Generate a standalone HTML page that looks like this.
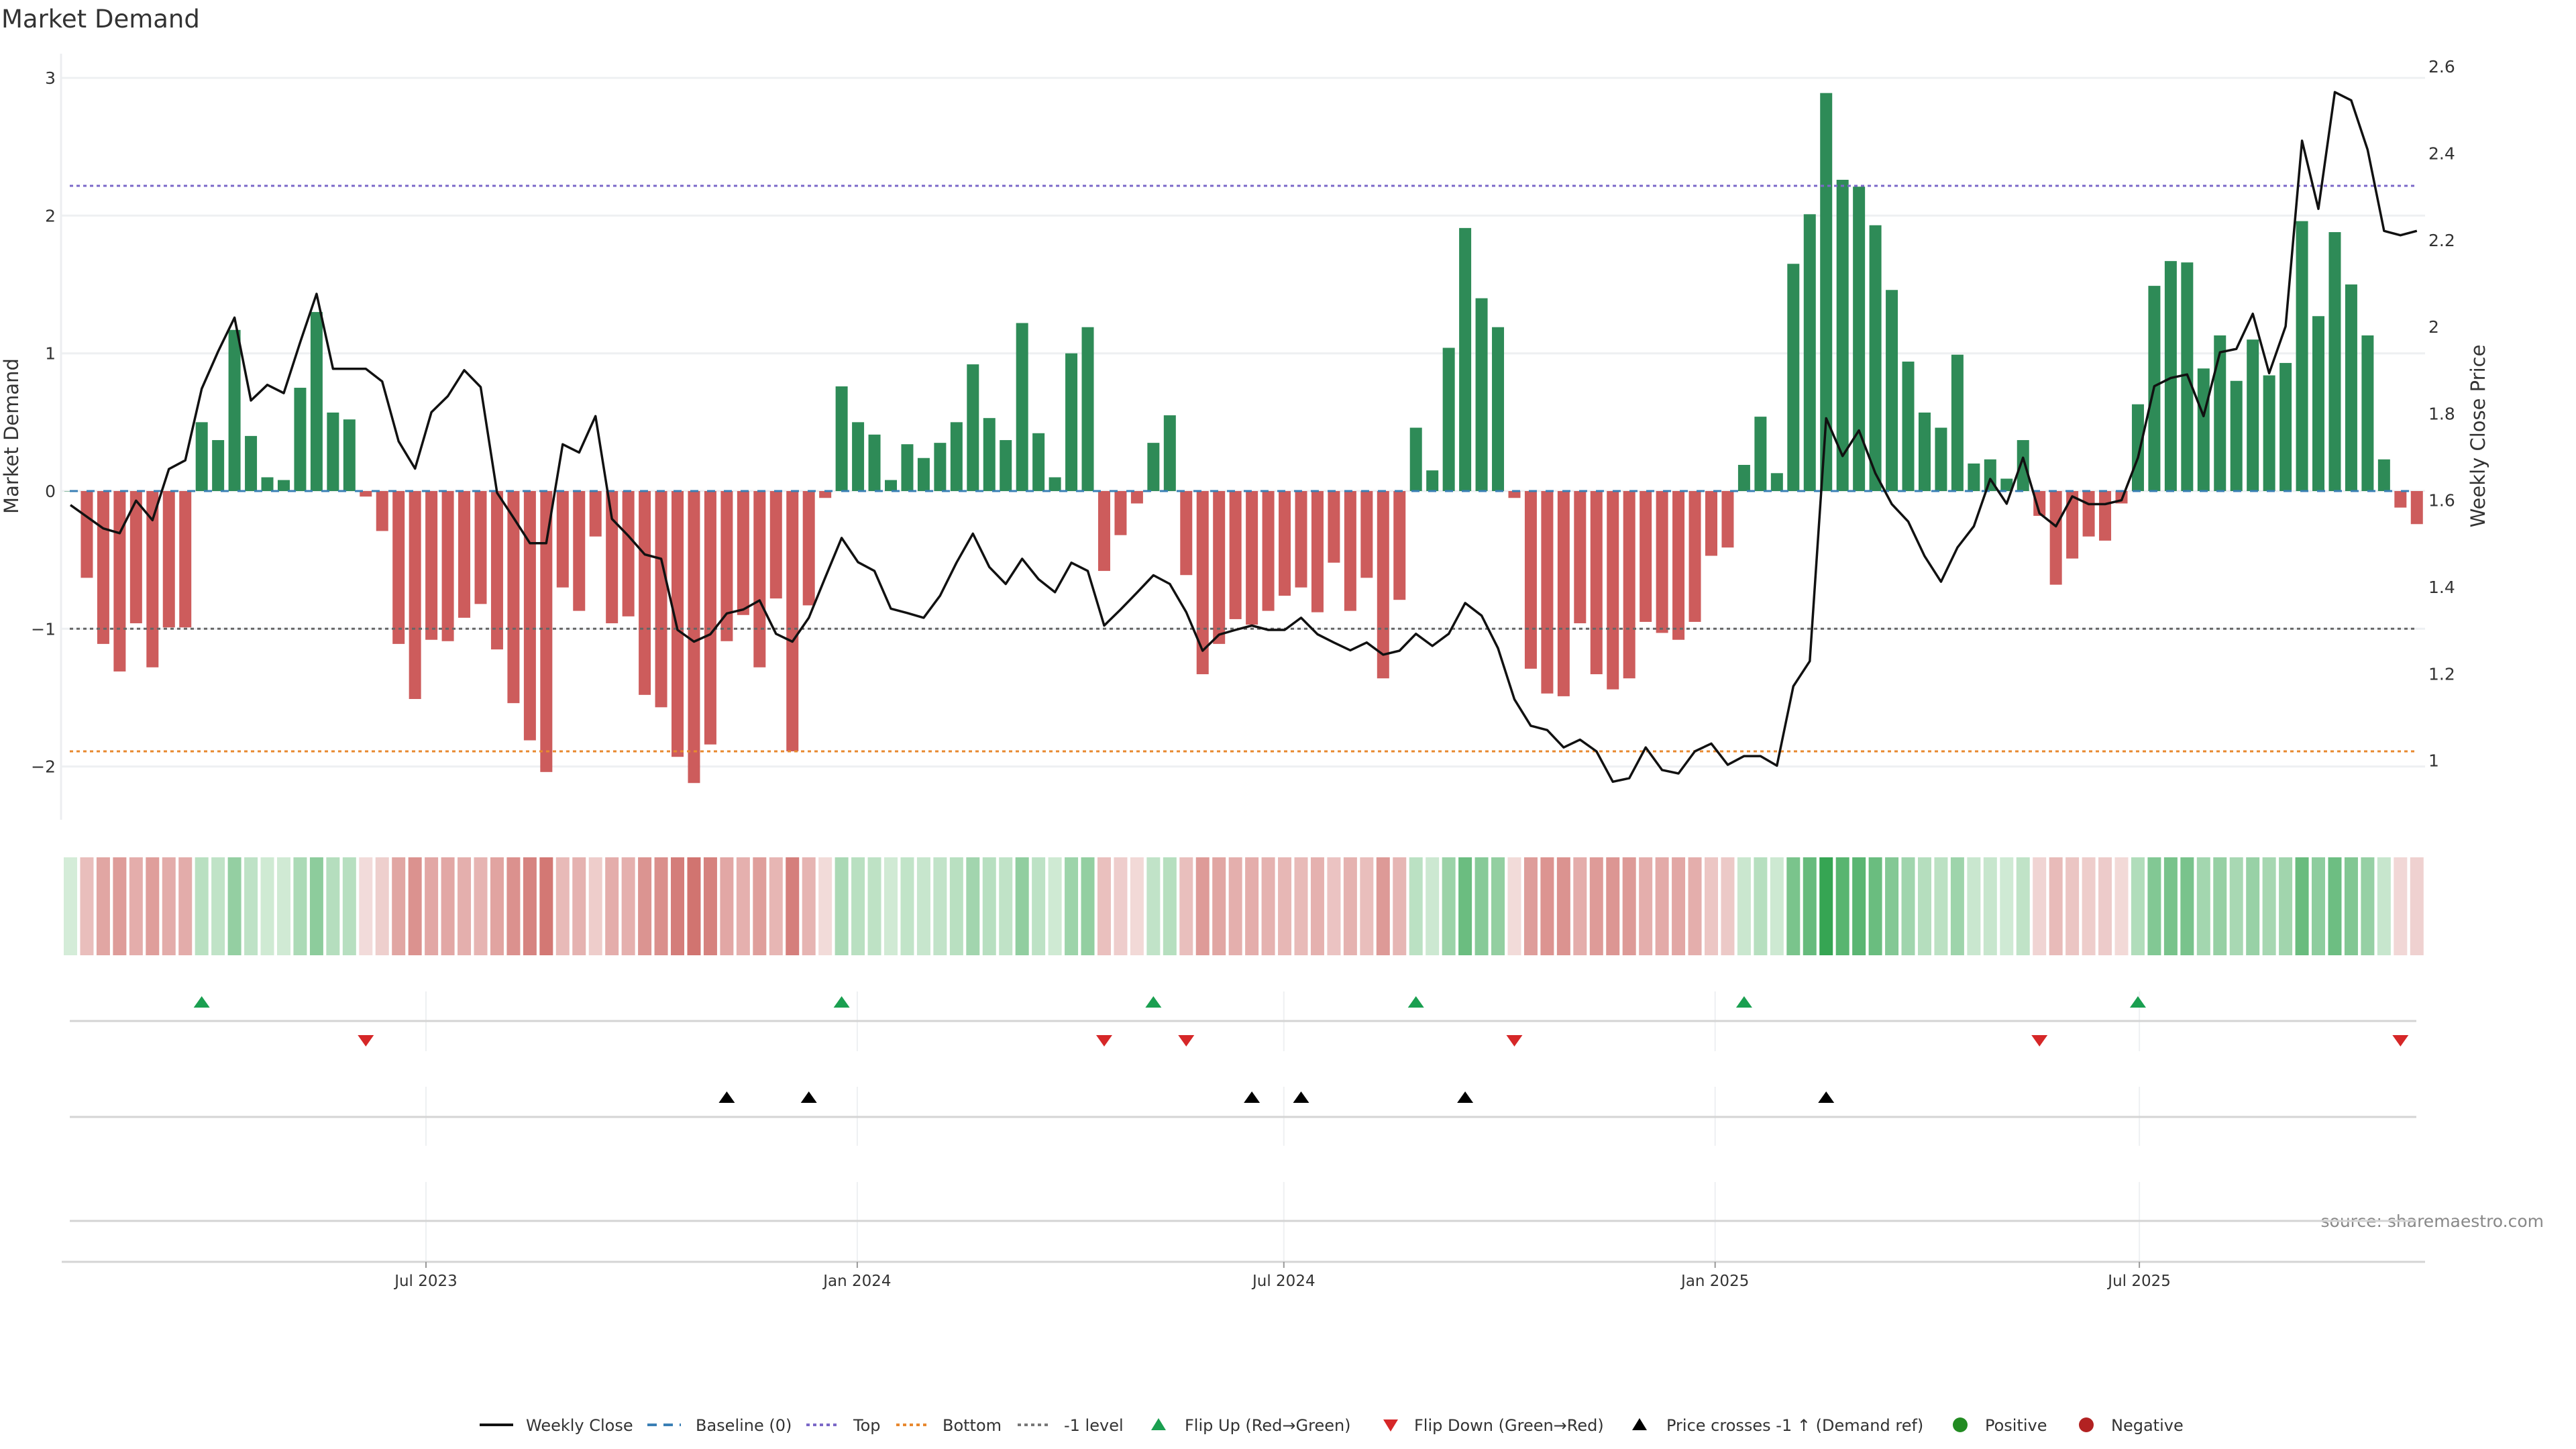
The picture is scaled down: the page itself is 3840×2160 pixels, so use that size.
<!DOCTYPE html>
<html><head><meta charset="utf-8"><title>Market Demand</title>
<style>
html,body{margin:0;padding:0;background:#fff;}
svg{display:block;font-family:"DejaVu Sans","Liberation Sans",sans-serif;}
</style></head>
<body>
<svg id="chart" width="3840" height="2160" viewBox="0 0 3840 2160" xmlns="http://www.w3.org/2000/svg">
<rect width="3840" height="2160" fill="#fff"/>
<text x="2" y="41" font-size="37" fill="#333">Market Demand</text>
<text transform="translate(27,650) rotate(-90)" text-anchor="middle" font-size="29" fill="#333">Market Demand</text>
<text transform="translate(3704,650) rotate(-90)" text-anchor="middle" font-size="29" fill="#333">Weekly Close Price</text>
<text x="3792" y="1829" text-anchor="end" font-size="25" fill="#888">source: sharemaestro.com</text>
<g id="main"></g>
<g id="legend"></g>
</svg>
<script>
const demand = [0,-0.63,-1.11,-1.31,-0.96,-1.28,-0.99,-0.99,0.50,0.37,1.17,0.40,0.10,0.08,0.75,1.30,0.57,0.52,-0.04,-0.29,
-1.11,-1.51,-1.08,-1.09,-0.92,-0.82,-1.15,-1.54,-1.81,-2.04,-0.70,-0.87,-0.33,-0.96,-0.91,-1.48,-1.57,-1.93,-2.12,-1.84,
-1.09,-0.90,-1.28,-0.78,-1.89,-0.83,-0.05,0.76,0.50,0.41,0.08,0.34,0.24,0.35,0.50,0.92,0.53,0.37,1.22,0.42,
0.10,1.00,1.19,-0.58,-0.32,-0.09,0.35,0.55,-0.61,-1.33,-1.11,-0.93,-0.97,-0.87,-0.76,-0.70,-0.88,-0.52,-0.87,-0.63,
-1.36,-0.79,0.46,0.15,1.04,1.91,1.40,1.19,-0.05,-1.29,-1.47,-1.49,-0.96,-1.33,-1.44,-1.36,-0.95,-1.03,-1.08,-0.95,
-0.47,-0.41,0.19,0.54,0.13,1.65,2.01,2.89,2.26,2.21,1.93,1.46,0.94,0.57,0.46,0.99,0.20,0.23,0.09,0.37,
-0.18,-0.68,-0.49,-0.33,-0.36,-0.09,0.63,1.49,1.67,1.66,0.89,1.13,0.80,1.10,0.84,0.93,1.96,1.27,1.88,1.50,
1.13,0.23,-0.12,-0.24];
const price = [1.589,1.562,1.535,1.524,1.599,1.554,1.672,1.692,1.857,1.943,2.021,1.830,1.866,1.847,1.964,2.076,1.903,1.903,1.903,1.874,
1.736,1.673,1.803,1.840,1.900,1.861,1.617,1.560,1.501,1.501,1.729,1.710,1.794,1.557,1.518,1.475,1.465,1.301,1.274,1.291,
1.339,1.348,1.369,1.292,1.274,1.329,1.422,1.513,1.457,1.437,1.350,1.340,1.329,1.380,1.456,1.523,1.446,1.407,1.465,1.418,
1.388,1.456,1.437,1.311,1.348,1.387,1.427,1.407,1.342,1.253,1.290,1.301,1.311,1.301,1.301,1.329,1.291,1.272,1.254,1.272,
1.244,1.253,1.292,1.264,1.292,1.363,1.334,1.259,1.141,1.080,1.070,1.030,1.048,1.021,0.951,0.959,1.030,0.978,0.970,1.021,
1.039,0.990,1.010,1.010,0.988,1.171,1.229,1.789,1.702,1.761,1.662,1.591,1.551,1.471,1.412,1.491,1.540,1.649,1.592,1.698,
1.570,1.540,1.609,1.591,1.591,1.600,1.698,1.863,1.882,1.890,1.794,1.941,1.949,2.030,1.893,2.001,2.429,2.272,2.541,2.522,
2.408,2.221,2.211,2.221];
const flipUpIdx = [8,47,66,82,102,126];
const flipDownIdx = [18,63,68,88,120,142];
const crossUpIdx = [40,45,72,75,85,107];
const leftTicks = [3,2,1,0,-1,-2];
const rightTicks = [1,1.2,1.4,1.6,1.8,2,2.2,2.4,2.6];
const dateTicks = ["2023-07-01","2024-01-01","2024-07-01","2025-01-01","2025-07-01"];
const dateTickLabels = ["Jul 2023","Jan 2024","Jul 2024","Jan 2025","Jul 2025"];
const topLevel = [2.216];
const bottomLevel = [-1.89];
const minusLevel = [-1];

const NS="http://www.w3.org/2000/svg";
const g=document.getElementById('main');
function mk(tag,attrs,parent){const e=document.createElementNS(NS,tag);for(const k in attrs)e.setAttribute(k,attrs[k]);(parent||g).appendChild(e);return e;}
const X0=105, DX=24.46, L=91, R=3615;
const xi=i=>X0+DX*i;
const yD=v=>732-205.3*v;
const yP=p=>1133.6-(p-1)*646.5;
const refDate=Date.UTC(2023,6,1);
const xDate=s=>{const [y,m,d]=s.split('-').map(Number);return 635+(Date.UTC(y,m-1,d)-refDate)/86400000*3.494;};
const minus=s=>String(s).replace('-','\u2212');

leftTicks.forEach(t=>{
  const gl=mk('line',{x1:L,x2:R,y1:yD(t),y2:yD(t),stroke:'#eef0f2','stroke-width':3});
  
  
  const tx=mk('text',{x:83,y:yD(t)+9,'text-anchor':'end','font-size':25,fill:'#333'});
  tx.textContent=minus(t);
  
  
});
rightTicks.forEach(t=>{
  const tx=mk('text',{x:3620,y:yP(t)+9,'font-size':25,fill:'#333'});
  tx.textContent=String(t);
  
  
});
const ax=mk('line',{x1:L,x2:L,y1:80,y2:1222,stroke:'#eceef0','stroke-width':3});



demand.forEach((v,i)=>{
  const y0=yD(0), y1=yD(v);
  const b=mk('rect',{x:xi(i)-9,y:Math.min(y0,y1),width:18,height:Math.max(0.5,Math.abs(y1-y0)),fill:v>=0?'#2e8b57':'#cd5c5c'});
  
  
});
function hline(v,color,dash,name){
  const l=mk('line',{x1:104,x2:3602,y1:yD(v),y2:yD(v),stroke:color,'stroke-width':3,'stroke-dasharray':dash});
  
  
}
hline(0,'#3a7fb5','12 13','baseline-zero-line');
hline(topLevel[0],'#7b68c8','5 5','top-level-line');
hline(bottomLevel[0],'#e8892f','5 5','bottom-level-line');
hline(minusLevel[0],'#666','5 5','minus-one-level-line');
const pl=mk('polyline',{points:price.map((p,i)=>xi(i).toFixed(1)+','+yP(p).toFixed(1)).join(' '),fill:'none',stroke:'#111','stroke-width':3.5,'stroke-linejoin':'round'});



function lerp(a,b,t){t=Math.max(0,Math.min(1,t));return 'rgb('+a.map((c,k)=>Math.round(c+(b[k]-c)*t)).join(',')+')';}
demand.forEach((v,i)=>{
  const col=v>=0?lerp([212,236,216],[53,165,83],v/2.9):lerp([243,221,220],[208,112,108],-v/2.2);
  const c=mk('rect',{x:xi(i)-10,y:1278,width:20,height:146,fill:col});
  
  
});

const panels=[[1478,1567,1522],[1620,1708,1665],[1762,1879,1820]];
panels.forEach(p=>{
  dateTicks.forEach(d=>{
    const vl=mk('line',{x1:xDate(d),x2:xDate(d),y1:p[0],y2:p[1],stroke:'#eef0f2','stroke-width':2});
    
    
  });
  const hl=mk('line',{x1:104,x2:3602,y1:p[2],y2:p[2],stroke:'#d4d4d4','stroke-width':3});
  
  
});
function tri(x,y,up,color,name){
  const pts=up?[[x,y-9],[x+12,y+8],[x-12,y+8]]:[[x-12,y-8],[x+12,y-8],[x,y+9]];
  const t=mk('polygon',{points:pts.map(p=>p.join(',')).join(' '),fill:color});
  
  
}
flipUpIdx.forEach(i=>tri(xi(i),1494,true,'#1a9f50','flip-up-marker'));
flipDownIdx.forEach(i=>tri(xi(i),1551,false,'#d62728','flip-down-marker'));
crossUpIdx.forEach(i=>tri(xi(i),1636,true,'#000','price-cross-marker'));

const xa=mk('line',{x1:92,x2:3615,y1:1881,y2:1881,stroke:'#d4d4d4','stroke-width':3});


dateTicks.forEach((d,k)=>{
  const tk=mk('line',{x1:xDate(d),x2:xDate(d),y1:1881,y2:1890,stroke:'#999','stroke-width':2});
  
  
  const tx=mk('text',{x:xDate(d),y:1917,'text-anchor':'middle','font-size':23,fill:'#333'});
  tx.textContent=dateTickLabels[k];
  
  
});

const lg=document.getElementById('legend');
const LY=2124;
function ltext(x,s){const t=mk('text',{x:x,y:LY+9,'font-size':24,fill:'#333'},lg);t.textContent=s;}
function lline(x,color,dash,w){const l=mk('line',{x1:x,x2:x+50,y1:LY,y2:LY,stroke:color,'stroke-width':w,'stroke-dasharray':dash},lg);}
lline(715,'#111','none',4);ltext(784,'Weekly Close');
lline(965,'#3a7fb5','14 10',4);ltext(1037,'Baseline (0)');
lline(1202,'#7b68c8','5 5',4);ltext(1272,'Top');
lline(1336,'#e8892f','5 5',4);ltext(1405,'Bottom');
lline(1517,'#777','5 5',4);ltext(1586,'-1 level');
function ltri(x,up,color){const pts=up?[[x,LY-10],[x+11,LY+8],[x-11,LY+8]]:[[x-11,LY-8],[x+11,LY-8],[x,LY+10]];const t=mk('polygon',{points:pts.map(p=>p.join(',')).join(' '),fill:color},lg);}
ltri(1727,true,'#1a9f50');ltext(1766,'Flip Up (Red\u2192Green)');
ltri(2073,false,'#d62728');ltext(2108,'Flip Down (Green\u2192Red)');
ltri(2444,true,'#000');ltext(2484,'Price crosses -1 \u2191 (Demand ref)');
const c1=mk('circle',{cx:2922,cy:LY,r:11,fill:'#228b22'},lg);
ltext(2959,'Positive');
const c2=mk('circle',{cx:3110,cy:LY,r:11,fill:'#b22222'},lg);
ltext(3147,'Negative');
</script>
</body></html>
